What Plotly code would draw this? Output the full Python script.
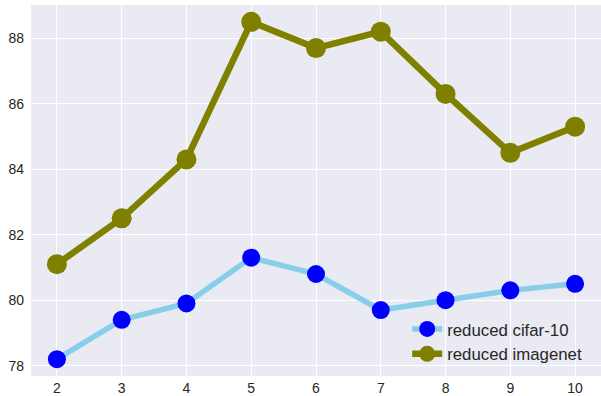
import plotly.graph_objects as go

x_vals = [2, 3, 4, 5, 6, 7, 8, 9, 10]
cifar = [78.2, 79.4, 79.9, 81.3, 80.8, 79.7, 80.0, 80.3, 80.5]
imagenet = [81.1, 82.5, 84.3, 88.5, 87.7, 88.2, 86.3, 84.5, 85.3]
y_ticks = [78, 80, 82, 84, 86, 88]

fig = go.Figure()
fig.add_trace(go.Scatter(
    x=x_vals, y=cifar, mode="lines+markers", name="reduced cifar-10",
    line=dict(color="#87CEEB", width=5.5),
    marker=dict(color="#0000FF", size=18),
))
fig.add_trace(go.Scatter(
    x=x_vals, y=imagenet, mode="lines+markers", name="reduced imagenet",
    line=dict(color="#808000", width=6.5),
    marker=dict(color="#808000", size=20),
))

fig.update_layout(
    width=601, height=396,
    margin=dict(l=31, r=0, t=5, b=20),
    paper_bgcolor="white",
    plot_bgcolor="#EAEAF2",
    font=dict(family="Arial, Liberation Sans, sans-serif", size=14, color="#262626"),
    showlegend=True,
    legend=dict(
        x=0.66, y=0.012, xanchor="left", yanchor="bottom",
        bgcolor="rgba(0,0,0,0)", borderwidth=0,
        font=dict(size=16.8, color="#262626"),
        tracegroupgap=0,
    ),
)
fig.update_xaxes(
    range=[1.6, 10.4], tickmode="array", tickvals=x_vals,
    showgrid=True, gridcolor="white", gridwidth=1.2, zeroline=False,
    showline=False, ticks="", ticklabelstandoff=2,
)
fig.update_yaxes(
    range=[77.685, 89.015], tickmode="array", tickvals=y_ticks,
    showgrid=True, gridcolor="white", gridwidth=1.2, zeroline=False,
    showline=False, ticks="", ticklabelstandoff=6,
)

fig.write_html(
    "out.html",
    config={"displayModeBar": False},
    post_script="document.body.style.margin='0';document.body.style.overflow='hidden';",
)
